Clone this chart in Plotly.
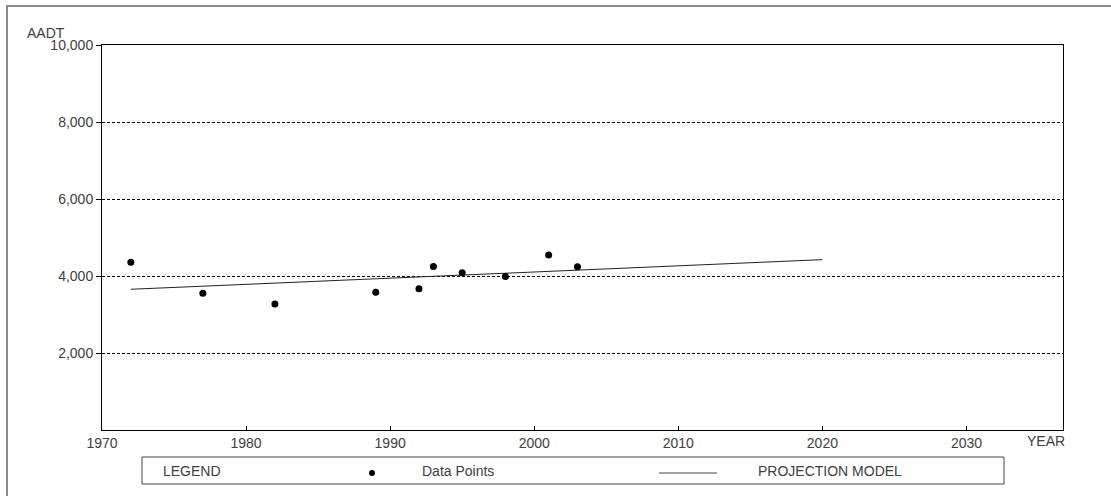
import plotly.graph_objects as go

# ---- data ----
years = [1972, 1977, 1982, 1989, 1992, 1993, 1995, 1998, 2001, 2003]
aadt = [4360, 3550, 3270, 3575, 3670, 4250, 4085, 3990, 4545, 4240]
proj_years = [1972, 2020]
proj_aadt = [3655, 4425]
x_ticks = [1970, 1980, 1990, 2000, 2010, 2020, 2030]
y_ticks = [2000, 4000, 6000, 8000, 10000]

W, H = 1111, 496
L, R, T, B = 102, 1063, 45, 430
FONT = "Liberation Sans"
TXT = "#404040"
FS = 14


def px(x):
    return (x - L) / (R - L)


def py(y):
    return (B - y) / (B - T)


fig = go.Figure()
fig.add_trace(go.Scatter(
    x=proj_years, y=proj_aadt, mode="lines",
    line=dict(color="#222222", width=1), showlegend=False, hoverinfo="skip"))
fig.add_trace(go.Scatter(
    x=years, y=aadt, mode="markers",
    marker=dict(color="black", size=7, symbol="circle"),
    showlegend=False))

shapes = []
# outer frame
shapes.append(dict(type="rect", xref="paper", yref="paper",
                   x0=px(7), x1=px(1125), y0=py(6), y1=py(510),
                   line=dict(color="#8a8a8a", width=2), layer="below"))
# legend box
shapes.append(dict(type="rect", xref="paper", yref="paper",
                   x0=px(142), x1=px(1004), y0=py(457), y1=py(484),
                   line=dict(color="#444444", width=1)))
# legend dot
shapes.append(dict(type="circle", xref="paper", yref="paper",
                   x0=px(369), x1=px(375), y0=py(470), y1=py(476),
                   fillcolor="black", line=dict(color="black", width=0)))
# legend line
shapes.append(dict(type="line", xref="paper", yref="paper",
                   x0=px(659), x1=px(717), y0=py(473), y1=py(473),
                   line=dict(color="#444444", width=1)))

annotations = [
    dict(text="AADT", x=px(25), y=py(33), xanchor="left", yanchor="middle"),
    dict(text="YEAR", x=px(1025), y=py(441), xanchor="left", yanchor="middle"),
    dict(text="LEGEND", x=px(161), y=py(471), xanchor="left", yanchor="middle"),
    dict(text="Data Points", x=px(420), y=py(471), xanchor="left", yanchor="middle"),
    dict(text="PROJECTION MODEL", x=px(756), y=py(471), xanchor="left", yanchor="middle"),
]
for a in annotations:
    a.update(xref="paper", yref="paper", showarrow=False,
             font=dict(family=FONT, size=FS, color=TXT))

fig.update_layout(
    width=W, height=H,
    margin=dict(l=L, r=W - R, t=T, b=H - B, pad=0),
    paper_bgcolor="white", plot_bgcolor="white",
    font=dict(family=FONT, size=FS, color=TXT),
    shapes=shapes, annotations=annotations,
    showlegend=False,
)
fig.update_xaxes(
    range=[1970, 2036.7], tickvals=x_ticks, ticks="inside", ticklen=4,
    tickcolor="black", showgrid=False, zeroline=False,
    showline=True, linecolor="black", linewidth=1, mirror=True,
    tickfont=dict(family=FONT, size=FS, color=TXT))
fig.update_yaxes(
    range=[0, 10000], tickvals=y_ticks, tickformat=",d", ticks="outside", ticklen=5,
    tickcolor="black", showgrid=True, gridcolor="black", gridwidth=1,
    griddash="3px,2px", zeroline=False,
    showline=True, linecolor="black", linewidth=1, mirror=True,
    tickfont=dict(family=FONT, size=FS, color=TXT))

fig.write_html("out.html", config={"displayModeBar": False},
               post_script="document.body.style.margin='0px';document.body.style.padding='0px';")
